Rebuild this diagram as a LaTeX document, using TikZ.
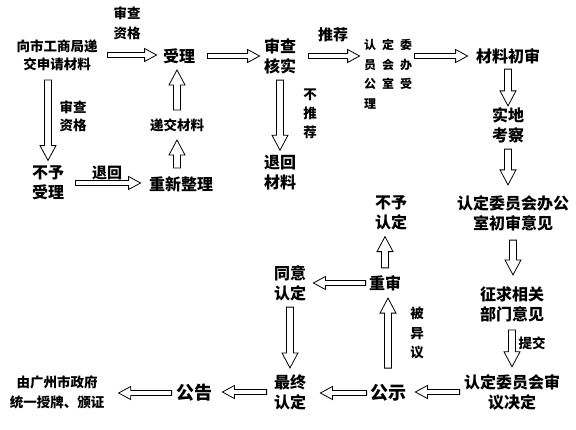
\documentclass[tikz,border=0pt]{standalone}
\usepackage{tikz}
\usepackage{xcolor}
\usepackage{fontspec}
\setmainfont{Noto Sans CJK SC}
\usetikzlibrary{calc}

\begin{document}
\begin{tikzpicture}[x=1pt,y=-1pt,line width=0.8pt,
    big/.style={inner sep=0pt,align=center,font=\fontsize{16}{20}\selectfont\bfseries},
    mid/.style={inner sep=0pt,align=center,font=\fontsize{13.5}{18}\selectfont\bfseries},
    sa/.store in=\arrsa,sb/.store in=\arrsb,sa=0pt,sb=0pt,
    blockto/.style n args={3}{to path={
      ($(\tikztostart)!\arrsa!(\tikztotarget)$) coordinate (bS)
      ($(\tikztotarget)!\arrsb!(\tikztostart)$) coordinate (bT)
      ($(bT)!#3!(bS)$) coordinate (bM)
      ($(bS)!#1!90:(bT)$) -- ($(bM)!#1!90:(bT)$) -- ($(bM)!#2!90:(bT)$) -- (bT)
      -- ($(bM)!#2!-90:(bT)$) -- ($(bM)!#1!-90:(bT)$) -- ($(bS)!#1!-90:(bT)$) -- cycle}},
    harrow/.style={blockto={2.5pt}{6.5pt}{12pt}},
    varrow/.style={blockto={3.5pt}{8pt}{15pt}}]
  \useasboundingbox (0,0) rectangle (576,429);

  \node[mid] (sq) at (57,55) {向市工商局递\\交申请材料};
  \node[mid,font=\fontsize{13.5}{20}\selectfont\bfseries] (zg1) at (127,23) {审查\\资格};
  \node[big] (sl) at (179,56) {受理};
  \node[big] (hs) at (280,56) {审查\\核实};
  \node[mid,font=\fontsize{15}{18}\selectfont\bfseries] (tj) at (333,35) {推荐};
  \node[inner sep=0pt,align=left,font=\fontsize{12}{19.5}\selectfont\bfseries] (wyh) at (388,74)
    {认\enspace 定\enspace 委\\员\enspace 会\enspace 办\\公\enspace 室\enspace 受\\理};
  \node[big] (clcs) at (508,56) {材料初审};
  \node[big] (sdkc) at (508,125) {实地\\考察};

  \node[mid] (zg2) at (73,116) {审查\\资格};
  \node[mid] (dj) at (177,125) {递交材料};
  \node[mid,font=\fontsize{13.5}{19}\selectfont\bfseries] (btj) at (310,114) {不\\推\\荐};
  \node[big] (byyl) at (48,183) {不予\\受理};
  \node[mid,font=\fontsize{15}{18}\selectfont\bfseries] (th2) at (107,173) {退回};
  \node[big] (cxzl) at (181,184) {重新整理};
  \node[big] (th) at (280,173) {退回\\材料};

  \node[big] (by) at (391,213) {不予\\认定};
  \node[big] (cwyj) at (513,213) {认定委员会办公\\室初审意见};
  \node[big] (ty) at (290,283) {同意\\认定};
  \node[big] (cs) at (385,283) {重审};
  \node[big] (zq) at (512,304) {征求相关\\部门意见};
  \node[mid,font=\fontsize{13.5}{19.5}\selectfont\bfseries] (byi) at (417,333) {被\\异\\议};
  \node[mid] (tjx) at (532,343) {提交};

  \node[mid,font=\fontsize{13.5}{20}\selectfont\bfseries] (zf) at (57,392) {由广州市政府\\统一授牌、颁证};
  \node[big,font=\fontsize{18}{20}\selectfont\bfseries] (gg) at (194,393) {公告};
  \node[big] (zz) at (290,392) {最终\\认定};
  \node[big,font=\fontsize{18}{20}\selectfont\bfseries] (gs) at (388,393) {公示};
  \node[big] (sy) at (512,392) {认定委员会审\\议决定};

  \draw[harrow,sa=9.5pt,sb=6pt] (sq.east) to (sq.east -| sl.west);
  \draw[harrow,sa=12pt,sb=4pt] (sl.east) to (hs.west);
  \draw[harrow,sa=12pt,sb=4pt] (hs.east) to (hs.east -| wyh.west);
  \draw[harrow,sa=2pt,sb=8pt] (clcs.west -| wyh.east) to (clcs.west);
  \draw[varrow,sa=5pt,sb=1pt] (clcs.south) to (clcs.south |- sdkc.north);
  \draw[varrow,sa=6pt,sb=10pt] (sdkc.south) to (sdkc.south |- cwyj.north);
  \draw[varrow,sa=9pt,sb=11pt] (cwyj.south) to (cwyj.south |- zq.north);
  \draw[varrow,sa=8pt,sb=7pt] (zq.south) to (zq.south |- sy.north);
  \draw[harrow,sa=4pt,sb=9pt] (sy.west) to (sy.west -| gs.east);
  \draw[harrow,sa=3pt,sb=14pt] (gs.west) to (gs.west -| zz.east);
  \draw[harrow,sa=7pt,sb=10pt] (zz.west) to (zz.west -| gg.east);
  \draw[harrow,sa=4pt,sb=14pt] (gg.west) to (gg.west -| zf.east);
  \draw[varrow,sa=16pt,sb=7pt] (gs.north) to (gs.north |- cs.south);
  \draw[varrow,sa=7pt,sb=6pt] (cs.north) to (cs.north |- by.south);
  \draw[harrow,sa=3pt,sb=7pt] (cs.west) to (cs.west -| ty.east);
  \draw[varrow,sa=6pt,sb=6pt] (ty.south) to (ty.south |- zz.north);
  \draw[varrow,sa=9pt,sb=5pt] (byyl.north |- sq.south) to (byyl.north);
  \draw[harrow,sa=11pt,sb=8pt] (byyl.east) to (byyl.east -| cxzl.west);
  \draw[varrow,sa=8pt,sb=8pt] (cxzl.north -| dj.south) to (dj.south);
  \draw[varrow,sa=8pt,sb=6pt] (dj.north) to (dj.north |- sl.south);
  \draw[varrow,sa=6pt,sb=5pt] (hs.south) to (hs.south |- th.north);
\end{tikzpicture}
\end{document}
